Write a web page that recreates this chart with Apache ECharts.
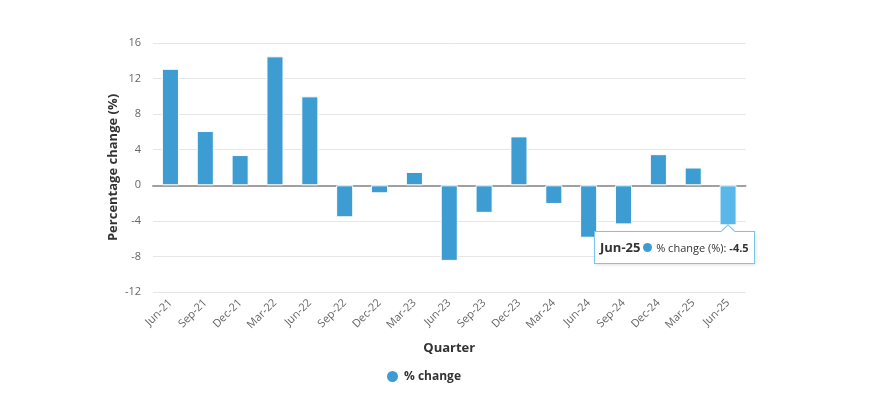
<!DOCTYPE html>
<html>
<head>
<meta charset="utf-8">
<script src="https://cdn.jsdelivr.net/npm/echarts@6/dist/echarts.min.js"></script>
<style>
html,body{margin:0;padding:0;background:#fff;}
#chart{width:872px;height:393px;}
</style>
</head>
<body>
<div id="chart"></div>
<script>
const categories = ['Jun-21','Sep-21','Dec-21','Mar-22','Jun-22','Sep-22','Dec-22','Mar-23','Jun-23','Sep-23','Dec-23','Mar-24','Jun-24','Sep-24','Dec-24','Mar-25','Jun-25'];
const pctChange = [13.1, 6.1, 3.4, 14.5, 10.0, -3.6, -0.9, 1.5, -8.5, -3.1, 5.5, -2.1, -5.9, -4.4, 3.5, 2.0, -4.5];
const yTicks = [-12, -8, -4, 0, 4, 8, 12, 16];
const seriesName = '% change';
const tooltipIndex = 16;

const FONT = '"Open Sans", "Noto Sans", sans-serif';
const chart = echarts.init(document.getElementById('chart'), null, {renderer: 'canvas'});

const option = {
  animation: false,
  textStyle: {fontFamily: FONT},
  grid: {left: 153, right: 126.5, top: 43, bottom: 101, containLabel: false},
  legend: {
    bottom: 4,
    left: 380,
    icon: 'circle',
    itemWidth: 13,
    itemHeight: 13,
    itemGap: 6,
    textStyle: {fontFamily: FONT, fontSize: 12, fontWeight: 'bold', color: '#333'},
    data: [seriesName]
  },
  tooltip: {
    trigger: 'item',
    triggerOn: 'none',
    alwaysShowContent: true,
    backgroundColor: 'rgba(255,255,255,0.96)',
    borderColor: '#7ec3ea',
    borderWidth: 1,
    padding: [6, 5, 6, 5],
    extraCssText: 'box-shadow:1px 1px 3px rgba(0,0,0,0.12);border-radius:0;',
    textStyle: {fontFamily: FONT, color: '#333', fontSize: 11},
    position: function (point, params) {
      const p = chart.convertToPixel({gridIndex: 0}, [params.dataIndex, params.value]);
      return [p[0] - 134, p[1] + 6];
    },
    formatter: function (params) {
      return '<div style="position:relative;white-space:nowrap;line-height:18px;">' +
        '<div style="position:absolute;left:123px;top:-12px;width:9px;height:9px;background:#fff;border-left:1px solid #7ec3ea;border-top:1px solid #7ec3ea;transform:rotate(45deg);"></div>' +
        '<span style="font-size:13px;font-weight:bold;color:#333;">' + params.name + '</span> ' +
        '<span style="display:inline-block;width:9px;height:9px;border-radius:5px;background:#3d9cd2;margin:0 1px 0 0;"></span> ' +
        '<span style="font-size:11px;color:#333;">% change (%): </span>' +
        '<span style="font-size:11px;font-weight:bold;color:#333;">' + params.value + '</span>' +
        '</div>';
    }
  },
  xAxis: {
    type: 'category',
    data: categories,
    name: 'Quarter',
    nameLocation: 'middle',
    nameGap: 50,
    nameTextStyle: {fontFamily: FONT, fontSize: 13, fontWeight: 'bold', color: '#333'},
    axisLine: {show: true, onZero: true, lineStyle: {color: '#a0a0a0', width: 2}},
    axisTick: {show: false},
    axisLabel: {rotate: 45, fontSize: 11, color: '#666', fontFamily: FONT, margin: 9, interval: 0},
    splitLine: {show: false}
  },
  yAxis: {
    type: 'value',
    min: -12,
    max: 16,
    interval: 4,
    name: 'Percentage change (%)',
    nameLocation: 'middle',
    nameGap: 33,
    nameMoveOverlap: false,
    nameTextStyle: {fontFamily: FONT, fontSize: 13, fontWeight: 'bold', color: '#333'},
    axisLine: {show: false},
    axisTick: {show: false},
    axisLabel: {fontSize: 11, color: '#666', fontFamily: FONT, margin: 12,
      formatter: function (v) { return yTicks.indexOf(v) >= 0 ? String(v) : ''; }},
    splitLine: {lineStyle: {color: '#e6e6e6', width: 1}}
  },
  series: [{
    name: seriesName,
    type: 'bar',
    data: pctChange,
    barWidth: '49%',
    itemStyle: {color: '#3d9cd2', borderColor: '#ffffff', borderWidth: 1},
    emphasis: {itemStyle: {color: '#5ab7ea', borderColor: '#ffffff', borderWidth: 1}}
  }]
};

chart.setOption(option);
chart.dispatchAction({type: 'highlight', seriesIndex: 0, dataIndex: tooltipIndex});
chart.dispatchAction({type: 'showTip', seriesIndex: 0, dataIndex: tooltipIndex});
</script>
</body>
</html>
